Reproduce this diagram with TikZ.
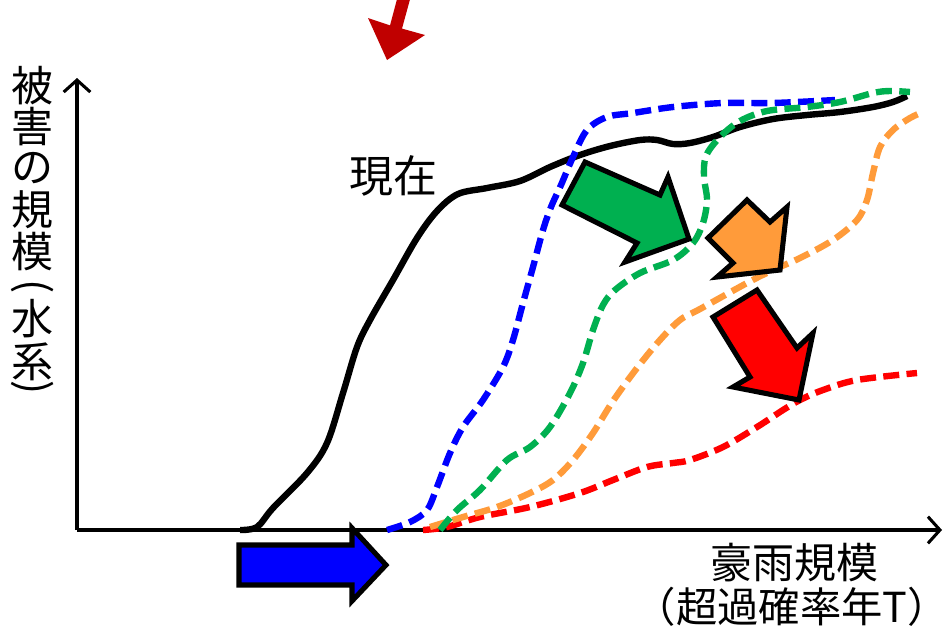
\documentclass[tikz,border=0pt]{standalone}
\usepackage{fontspec}
\newfontfamily\jp{Noto Sans CJK JP}
\usetikzlibrary{arrows.meta}
\definecolor{cblue}{HTML}{0000FF}
\definecolor{cgreen}{HTML}{00B050}
\definecolor{corange}{HTML}{FF9B3A}
\definecolor{cred}{HTML}{FF0000}
\definecolor{cdarkred}{HTML}{C00000}
\tikzset{
  axis/.style={line width=2.3pt,-{Straight Barb[length=9pt,width=20pt,line width=2.3pt]}},
  curve/.style={line width=4.8pt},
  dcurve/.style={line width=4.8pt,dash pattern=on 12pt off 5.5pt},
  blockarrow/.style={draw=black,line width=3.8pt,line join=miter,miter limit=10},
  lbl/.style={font=\jp\fontsize{31.5}{38}\selectfont,inner sep=0pt},
}
\begin{document}
\begin{tikzpicture}[x=0.75pt,y=-0.75pt]
\useasboundingbox (0,0) rectangle (944,637);
% axes
\coordinate (O) at (77,530);
\coordinate (Ytip) at (77,78);
\coordinate (Xtip) at (942,530);
\draw[axis] (O) -- (Ytip);
\draw[axis] (O) -- (Xtip);
% curves
\draw[curve,black] plot[smooth,tension=0.55] coordinates {(240,530) (257,527) (273,508) (307,473) (327,443) (343,393) (357,347) (370,320) (393,280) (417,238) (437,211) (458,194) (487,188) (520,181) (550,167) (580,155) (610,146) (640,140) (657,140) (673,144) (690,143) (713,137) (740,127) (773,119) (807,115) (840,112) (873,107) (893,102) (907,96)};
\draw[dcurve,cblue] plot[smooth,tension=0.55] coordinates {(387,530) (410,522) (427,510) (437,487) (450,453) (463,427) (483,400) (503,367) (513,340) (523,303) (533,267) (543,230) (551,207) (561,185) (573,157) (587,130) (607,117) (633,113) (673,107) (723,103) (773,103) (835,100)};
\draw[dcurve,cred] plot[smooth,tension=0.55] coordinates {(423,530) (447,527) (480,517) (530,507) (580,493) (613,480) (647,467) (673,463) (690,460) (723,447) (757,427) (783,410) (800,400) (823,390) (857,380) (917,373)};
\draw[dcurve,corange] plot[smooth,tension=0.55] coordinates {(430,527) (463,517) (497,507) (530,493) (553,480) (573,460) (593,433) (613,401) (637,368) (660,340) (680,320) (700,309) (747,283) (773,270) (800,258) (833,240) (857,220) (867,200) (873,173) (880,147) (893,130) (910,118) (923,112)};
\draw[dcurve,cgreen] plot[smooth,tension=0.55] coordinates {(440,530) (457,510) (480,490) (507,460) (530,447) (550,427) (570,393) (583,363) (593,330) (603,305) (615,290) (640,273) (673,260) (693,243) (703,223) (707,200) (704,177) (706,156) (720,137) (740,121) (767,111) (807,107) (840,102) (873,93) (890,91) (910,92)};
% block arrows
\draw[blockarrow,fill=cblue] (239,545) -- (352,545) -- (352,528) -- (386,565) -- (352,601) -- (352,585) -- (239,585) -- cycle;
\draw[blockarrow,fill=cgreen] (585,162) -- (660,195) -- (668,177) -- (689,239) -- (625,262) -- (637,243) -- (562,205) -- cycle;
\draw[blockarrow,fill=corange] (708,238) -- (747,200) -- (770,222) -- (787,207) -- (780,270) -- (717,277) -- (733,263) -- cycle;
\draw[blockarrow,fill=cred] (757,290) -- (797,348) -- (813,333) -- (799,400) -- (733,387) -- (750,377) -- (713,317) -- cycle;
\fill[cdarkred] (400,-12) -- (412,-8) -- (402,28.6) -- (425,35) -- (387,60) -- (368,18) -- (390,25.4) -- cycle;
% labels
\node[lbl,font=\jp\fontsize{33}{40}\selectfont] (now) at (393,176) {現在};
\node[lbl] (y1) at (33,86) {被};
\node[lbl] (y2) at (33,127) {害};
\node[lbl] (y3) at (33,168) {の};
\node[lbl] (y4) at (33,210) {規};
\node[lbl] (y5) at (33,252) {模};
\node[lbl,rotate=-90] (y6) at (33,287) {(};
\node[lbl] (y7) at (33,319) {水};
\node[lbl] (y8) at (33,362) {系};
\node[lbl,rotate=-90] (y9) at (33,388) {)};
\node[lbl] (x1) at (794,563) {豪雨規模};
\node[lbl,font=\jp\fontsize{31}{38}\selectfont] (x2) at (792,607) {\makebox[0.5em][r]{（}超過確率年T\makebox[0.5em][l]{）}};
\end{tikzpicture}
\end{document}
